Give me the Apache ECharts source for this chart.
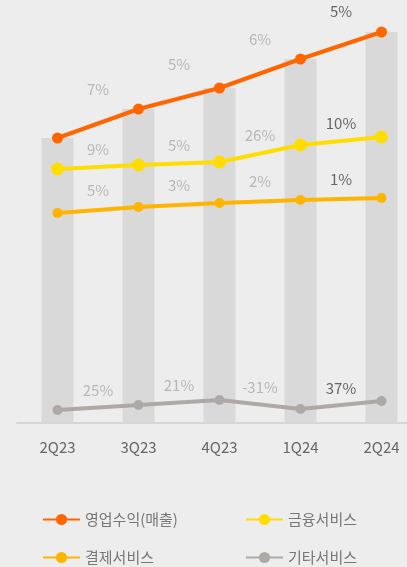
<!DOCTYPE html>
<html><head><meta charset="utf-8">
<script src="https://cdn.jsdelivr.net/npm/echarts@6/dist/echarts.min.js"></script>
<style>html,body{margin:0;padding:0;background:#ededed;}#c{width:407px;height:567px;}</style>
</head><body><div id="c"></div>
<script>
const categories = ['2Q23','3Q23','4Q23','1Q24','2Q24'];
const revenue  = [285, 314, 335, 364, 391];   // 영업수익(매출) (bars + line)
const finance  = [254, 258, 261, 278, 286];   // 금융서비스
const payment  = [210, 216, 220, 223, 225];   // 결제서비스
const other    = [13, 18, 23, 14, 22];        // 기타서비스
const revenueGrowth = ['7%','5%','6%','5%'];
const financeGrowth = ['9%','5%','26%','10%'];
const paymentGrowth = ['5%','3%','2%','1%'];
const otherGrowth   = ['25%','21%','-31%','37%'];

const FONT = '"Noto Sans CJK KR", "Noto Sans", sans-serif';
function growthLabels(vals, growth, dy) {
  return {
    type: 'scatter', xAxisIndex: 1, symbolSize: 0, silent: true, z: 10,
    label: { show: true, position: 'inside', offset: [0, -dy], fontSize: 15, color: '#aaaaaa', fontFamily: FONT },
    data: growth.map((g, i) => ({
      value: [i + 0.5, (vals[i] + vals[i + 1]) / 2],
      label: { formatter: g, color: i === growth.length - 1 ? '#444444' : '#aaaaaa' }
    }))
  };
}
function lineSeries(name, vals, color, sym) {
  return { name, type: 'line', data: vals, symbol: 'circle', symbolSize: sym,
    lineStyle: { color, width: 4 }, itemStyle: { color }, z: 5 };
}
function legendItem(name, left, top) {
  return { left, top, itemWidth: 37, itemHeight: 14, padding: 0,
    textStyle: { color: '#777777', fontSize: 15, fontFamily: FONT }, data: [name] };
}
const chart = echarts.init(document.getElementById('c'));
chart.setOption({
  backgroundColor: '#ededed',
  animation: false,
  textStyle: { fontFamily: FONT },
  grid: { left: 17, right: -15, top: 23, bottom: 144, outerBoundsMode: 'none', containLabel: false },
  xAxis: [
    { type: 'category', data: categories, boundaryGap: true,
      axisLine: { lineStyle: { color: '#d6d6d6', width: 2 } }, axisTick: { show: false },
      axisLabel: { color: '#666666', fontSize: 15, margin: 17, fontFamily: FONT } },
    { type: 'value', min: -0.5, max: 4.5, show: false }
  ],
  yAxis: { type: 'value', min: 0, max: 400, show: false },
  legend: [
    legendItem('영업수익(매출)', 42, 512),
    legendItem('결제서비스', 42, 550),
    legendItem('금융서비스', 245, 512),
    legendItem('기타서비스', 245, 550)
  ],
  series: [
    { type: 'bar', data: revenue, barWidth: 32, itemStyle: { color: '#d9d9d9' }, silent: true, z: 1 },
    lineSeries('영업수익(매출)', revenue, '#ff6600', 11),
    lineSeries('금융서비스', finance, '#ffdd00', 13),
    lineSeries('결제서비스', payment, '#ffb400', 10),
    lineSeries('기타서비스', other, '#aea9a7', 10),
    growthLabels(revenue, revenueGrowth, 34),
    growthLabels(finance, financeGrowth, 18),
    growthLabels(payment, paymentGrowth, 20),
    growthLabels(other, otherGrowth, 17)
  ]
});
</script></body></html>
